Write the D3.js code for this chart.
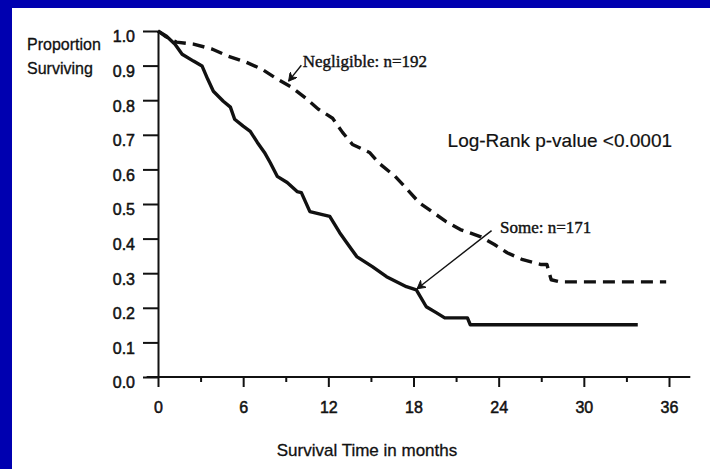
<!DOCTYPE html>
<html>
<head>
<meta charset="utf-8">
<script src="https://cdn.jsdelivr.net/npm/d3@7"></script>
<style>
  body { margin: 0; background: #fff; }
  svg { display: block; }
  .axis text { font-family: "Liberation Sans", Arial, sans-serif; font-size: 16px; fill: #111; stroke: #111; stroke-width: 0.5px; }
  .axis line, .axis path { stroke: #111; stroke-width: 2; }
  .title { font-family: "Liberation Sans", Arial, sans-serif; fill: #111; stroke: #111; stroke-width: 0.3px; }
  .note { font-family: "Liberation Serif", "Times New Roman", serif; font-size: 17px; fill: #111; stroke: #111; stroke-width: 0.4px; }
</style>
</head>
<body>
<svg id="chart"></svg>
<script>
// survival readings (months, proportion surviving)
const someTime = [0, 0.6, 1.2, 1.7, 2.5, 3.1, 3.5, 3.9, 4.6, 5.1, 5.4, 6.0, 6.5, 7.0, 7.5, 7.9, 8.4, 9.1, 9.8, 10.1, 10.7, 12.1, 12.8, 13.3, 14.0, 15.1, 16.1, 17.5, 18.2, 18.9, 19.6, 20.2, 21.8, 22.0, 33.8];
const someSurv = [1.0, 0.985, 0.962, 0.933, 0.913, 0.899, 0.861, 0.826, 0.797, 0.780, 0.745, 0.725, 0.710, 0.678, 0.649, 0.620, 0.580, 0.562, 0.536, 0.533, 0.478, 0.464, 0.417, 0.388, 0.348, 0.319, 0.290, 0.261, 0.252, 0.203, 0.186, 0.171, 0.171, 0.151, 0.151];

const negTime = [0, 0.5, 1.3, 2.5, 3.8, 4.9, 6.2, 7.3, 8.4, 9.4, 10.4, 11.3, 12.3, 13.0, 13.7, 14.9, 15.6, 16.7, 17.5, 18.4, 19.4, 20.3, 21.3, 22.7, 23.7, 24.6, 25.7, 27.0, 27.4, 27.7, 28.3, 35.8];
const negSurv = [1.0, 0.985, 0.968, 0.962, 0.948, 0.928, 0.910, 0.890, 0.861, 0.838, 0.806, 0.774, 0.748, 0.707, 0.672, 0.649, 0.617, 0.580, 0.545, 0.504, 0.475, 0.449, 0.426, 0.406, 0.383, 0.359, 0.339, 0.325, 0.325, 0.281, 0.275, 0.275];

const xMajorTicks = [0, 6, 12, 18, 24, 30, 36];
const xMinorTicks = [3, 9, 15, 21, 27, 33];
const yTicks = [0, 0.1, 0.2, 0.3, 0.4, 0.5, 0.6, 0.7, 0.8, 0.9, 1.0];

// annotations, in data units
const negLabel = "Negligible: n=192";
const negLabelAt = [10.2, 0.896];
const negArrow = [[10.1, 0.901], [9.2, 0.855]];
const someLabel = "Some: n=171";
const someLabelAt = [24.1, 0.417];
const someArrow = [[23.5, 0.423], [18.25, 0.255]];
const pLabel = "Log-Rank p-value <0.0001";
const pLabelAt = [20.4, 0.664];

const W = 710, H = 469;
const svg = d3.select("#chart").attr("width", W).attr("height", H);

// blue slide frame
svg.append("rect").attr("width", W).attr("height", H).attr("fill", "#0000b0");
svg.append("rect").attr("x", 12).attr("y", 8).attr("width", W - 12).attr("height", H - 8).attr("fill", "#fff");

const x = d3.scaleLinear().domain([0, 36]).range([158, 669]);
const y = d3.scaleLinear().domain([0, 1]).range([377, 31]);

svg.append("defs").append("marker")
    .attr("id", "arrow")
    .attr("viewBox", "0 0 10 10")
    .attr("refX", 9).attr("refY", 5)
    .attr("markerWidth", 9).attr("markerHeight", 9)
    .attr("markerUnits", "userSpaceOnUse")
    .attr("orient", "auto")
    .append("path")
    .attr("d", "M0,0 L9,5 L0,10 L3,5 Z")
    .attr("fill", "#111")
    .attr("stroke", "#111")
    .attr("stroke-width", 1);

// y axis
svg.append("g")
    .attr("class", "axis y-axis")
    .attr("transform", `translate(${x(0)},0)`)
    .call(d3.axisLeft(y).tickValues(yTicks).tickFormat(d3.format(".1f"))
        .tickSize(15).tickSizeOuter(0).tickPadding(8))
    .selectAll("text")
    .attr("dy", "0.68em");

// x axis: minor ticks, then major with labels
svg.append("g")
    .attr("class", "axis x-axis")
    .attr("transform", `translate(0,${y(0)})`)
    .call(d3.axisBottom(x).tickValues(xMinorTicks).tickSize(5).tickFormat(""))
    .select(".domain").remove();

svg.append("g")
    .attr("class", "axis x-axis")
    .attr("transform", `translate(0,${y(0)})`)
    .call(d3.axisBottom(x).tickValues(xMajorTicks).tickSize(10).tickPadding(15))
    .select(".domain").remove();

svg.append("line")
    .attr("x1", x(-0.8)).attr("x2", x(37.5))
    .attr("y1", y(0)).attr("y2", y(0))
    .attr("stroke", "#111").attr("stroke-width", 2);

// axis titles
svg.append("text").attr("class", "title")
    .attr("x", 27).attr("y", 50).attr("font-size", 16).text("Proportion");
svg.append("text").attr("class", "title")
    .attr("x", 27).attr("y", 74).attr("font-size", 16).text("Surviving");
svg.append("text").attr("class", "title")
    .attr("x", 367).attr("y", 456).attr("font-size", 17)
    .attr("text-anchor", "middle").text("Survival Time in months");

// survival curves
const curve = d3.line()
    .x(d => x(d[0]))
    .y(d => y(d[1]));

svg.append("path")
    .datum(d3.zip(negTime, negSurv))
    .attr("d", curve)
    .attr("fill", "none")
    .attr("stroke", "#111")
    .attr("stroke-width", 3.4)
    .attr("stroke-linejoin", "round")
    .attr("stroke-dasharray", "12,7");

svg.append("path")
    .datum(d3.zip(someTime, someSurv))
    .attr("d", curve)
    .attr("fill", "none")
    .attr("stroke", "#111")
    .attr("stroke-width", 3.4)
    .attr("stroke-linejoin", "round");

// labels and arrows
const arrowLine = d3.line().x(d => x(d[0])).y(d => y(d[1]));
[negArrow, someArrow].forEach(a => {
    svg.append("path")
        .attr("d", arrowLine(a))
        .attr("stroke", "#111")
        .attr("stroke-width", 1.4)
        .attr("marker-end", "url(#arrow)");
});

svg.append("text").attr("class", "note")
    .attr("x", x(negLabelAt[0])).attr("y", y(negLabelAt[1])).text(negLabel);
svg.append("text").attr("class", "note")
    .attr("x", x(someLabelAt[0])).attr("y", y(someLabelAt[1])).text(someLabel);
svg.append("text").attr("class", "title")
    .attr("x", x(pLabelAt[0])).attr("y", y(pLabelAt[1]))
    .attr("font-size", 19).style("stroke-width", "0.2px").text(pLabel);
</script>
</body>
</html>
